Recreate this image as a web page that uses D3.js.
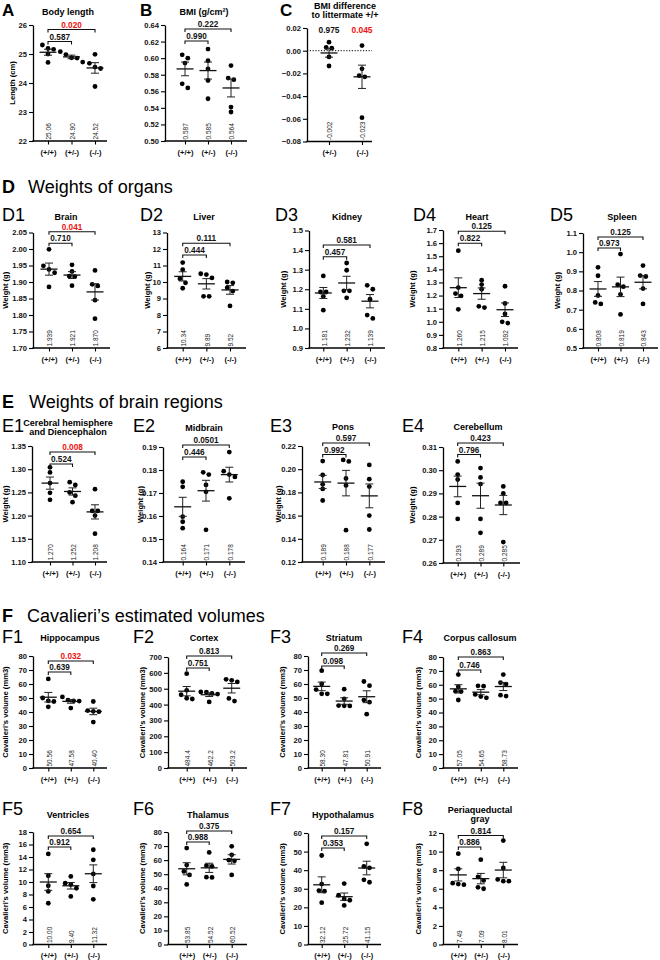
<!DOCTYPE html>
<html><head><meta charset="utf-8">
<script src="https://cdn.jsdelivr.net/npm/d3@7"></script>
<style>body{margin:0;background:#fff} svg{display:block}</style>
</head><body><svg id="chart" width="660" height="960"></svg>
<script>
const genotypes = ["(+/+)", "(+/-)", "(-/-)"];
const genotypesMutant = ["(+/-)", "(-/-)"];

// A  Body length
const bodyLengthTicks = [22, 23, 24, 25, 26];
const bodyLength = [[25.31,25.19,25.16,25.00,24.71],[25.08,24.98,24.87,24.86,24.72],[24.99,24.68,24.55,24.50,23.88]];
const bodyLengthMeans = ["25.06","24.90","24.52"];
const bodyLengthP = ["0.587","0.020"];
// B  BMI
const bmiTicks = [0.50,0.52,0.54,0.56,0.58,0.60,0.62,0.64];
const bmi = [[0.604,0.600,0.594,0.569,0.564],[0.611,0.597,0.587,0.573,0.551],[0.591,0.576,0.574,0.541,0.535]];
const bmiMeans = ["0.587","0.585","0.564"];
const bmiP = ["0.990","0.222"];
// C  BMI difference
const bmiDiffTicks = [-0.08,-0.06,-0.04,-0.02,0.00,0.02];
const bmiDiff = [[0.0075,0.0028,0.0022,-0.0055,-0.0135],[0.0045,-0.016,-0.022,-0.023,-0.059]];
const bmiDiffMeans = ["-0.002","-0.023"];
const bmiDiffP = ["0.975","0.045"];
// D  organs
const brainTicks = [1.70,1.75,1.80,1.85,1.90,1.95,2.00,2.05];
const brain = [[1.999,1.949,1.938,1.928,1.885],[1.952,1.932,1.918,1.916,1.889],[1.935,1.893,1.888,1.845,1.789]];
const brainMeans = ["1.939","1.921","1.870"];
const brainP = ["0.710","0.041"];
const liverTicks = [6,7,8,9,10,11,12,13];
const liver = [[11.18,10.75,10.20,9.95,9.62],[10.50,10.45,10.25,9.13,9.13],[10.00,9.95,9.65,9.45,8.55]];
const liverMeans = ["10.34","9.89","9.52"];
const liverP = ["0.444","0.111"];
const kidneyTicks = [0.9,1.0,1.1,1.2,1.3,1.4,1.5];
const kidney = [[1.268,1.186,1.186,1.164,1.093],[1.334,1.297,1.192,1.192,1.156],[1.220,1.200,1.149,1.068,1.051]];
const kidneyMeans = ["1.181","1.232","1.139"];
const kidneyP = ["0.457","0.581"];
const heartTicks = [0.8,0.9,1.0,1.1,1.2,1.3,1.4,1.5,1.6,1.7];
const heart = [[1.542,1.261,1.215,1.197,1.095],[1.317,1.284,1.248,1.118,1.108],[1.271,1.140,1.060,1.000,0.990]];
const heartMeans = ["1.260","1.215","1.092"];
const heartP = ["0.822","0.125"];
const spleenTicks = [0.5,0.6,0.7,0.8,0.9,1.0,1.1];
const spleen = [[0.921,0.877,0.774,0.738,0.730],[0.990,0.830,0.820,0.780,0.675],[0.930,0.878,0.873,0.810,0.730]];
const spleenMeans = ["0.808","0.819","0.843"];
const spleenP = ["0.973","0.125"];
// E  brain regions
const cerebralTicks = [1.10,1.15,1.20,1.25,1.30,1.35];
const cerebral = [[1.304,1.293,1.270,1.249,1.234],[1.272,1.266,1.250,1.243,1.229],[1.257,1.210,1.210,1.200,1.161]];
const cerebralMeans = ["1.270","1.252","1.208"];
const cerebralP = ["0.524","0.008"];
const midbrainTicks = [0.14,0.15,0.16,0.17,0.18,0.19];
const midbrain = [[0.1749,0.1727,0.1597,0.1575,0.1547],[0.179,0.178,0.1735,0.1705,0.154],[0.1878,0.1795,0.178,0.177,0.1677]];
const midbrainMeans = ["0.164","0.171","0.178"];
const midbrainP = ["0.446","0.0501"];
const ponsTicks = [0.12,0.14,0.16,0.18,0.20,0.22];
const pons = [[0.207,0.195,0.187,0.183,0.173],[0.208,0.2067,0.192,0.186,0.1474],[0.2037,0.1914,0.185,0.160,0.148]];
const ponsMeans = ["0.189","0.188","0.177"];
const ponsP = ["0.992","0.597"];
const cerebellumTicks = [0.26,0.27,0.28,0.29,0.30,0.31];
const cerebellum = [[0.3038,0.2981,0.296,0.2859,0.279],[0.3009,0.2969,0.294,0.279,0.273],[0.293,0.290,0.2859,0.2859,0.269]];
const cerebellumMeans = ["0.293","0.289","0.285"];
const cerebellumP = ["0.796","0.423"];
// F  Cavalieri volumes
const vol80Ticks = [0,10,20,30,40,50,60,70,80];
const hippocampus = [[63.6,50.0,48.0,47.5,43.7],[50.8,48.5,48.0,47.8,42.8],[47.5,41.0,40.5,40.2,32.8]];
const hippocampusMeans = ["50.56","47.58","40.40"];
const hippocampusP = ["0.639","0.032"];
const cortexTicks = [0,100,200,300,400,500,600,700];
const cortex = [[595,490,462,440,435],[480,478,470,466,417],[559,553,543,439,422]];
const cortexMeans = ["484.4","462.2","503.2"];
const cortexP = ["0.751","0.813"];
const striatum = [[69.5,60,56,53,53],[56.3,49.4,44.6,44.4,44.35],[61.8,58.8,48.5,47.0,38.45]];
const striatumMeans = ["58.30","47.81","50.91"];
const striatumP = ["0.098","0.269"];
const callosum = [[67.3,58.5,55.4,55.05,49.0],[59.2,59.0,53.0,51.5,50.55],[67.3,61.5,60.5,52.5,51.85]];
const callosumMeans = ["57.05","54.65","58.73"];
const callosumP = ["0.746","0.863"];
const ventriclesTicks = [0,2,4,6,8,10,12,14,16,18];
const ventricles = [[14.5,11.0,9.4,8.5,6.6],[10.9,9.8,9.6,9.0,7.7],[15.16,13.55,11.3,9.36,7.23]];
const ventriclesMeans = ["10.00","9.40","11.32"];
const ventriclesP = ["0.912","0.654"];
const thalamus = [[68.6,56.5,52.0,49.5,42.7],[65.5,56.0,55.5,47.9,47.7],[69.8,63.8,60.0,59.5,49.5]];
const thalamusMeans = ["53.85","54.52","60.52"];
const thalamusP = ["0.988","0.375"];
const hypothalamusTicks = [0,10,20,30,40,50,60];
const hypothalamus = [[47.9,32.5,29.0,28.7,22.5],[32.8,26.5,24.5,23.8,21.0],[54.2,42.0,41.25,34.8,33.5]];
const hypothalamusMeans = ["32.12","25.72","41.15"];
const hypothalamusP = ["0.353","0.157"];
const pagTicks = [0,2,4,6,8,10,12];
const pag = [[9.78,8.13,6.6,6.5,6.44],[9.13,7.27,6.9,6.15,6.0],[11.18,8.24,7.0,6.82,6.81]];
const pagMeans = ["7.49","7.09","8.01"];
const pagP = ["0.886","0.814"];

const FONT = '"Liberation Sans", Arial, Helvetica, sans-serif';
const VOL = "Cavalieri\u2019s volume (mm3)";

const panels = [
 {lab:"A",lb:true,lx:2,ly:16,title:["Body length"],tx:68,ty:15,x0:33,top:25,bottom:141,cx:[48,95],end:107,cats:genotypes,ticks:bodyLengthTicks,fmt:"d",vals:bodyLength,means:bodyLengthMeans,p:bodyLengthP,br:[41.5,29.5],yl:"Length (cm)",ylx:12},
 {lab:"B",lb:true,lx:140,ly:16,title:["BMI (g/cm\u00b2)"],tx:204,ty:15,x0:165,top:25,bottom:141,cx:[185,231],end:247,cats:genotypes,ticks:bmiTicks,fmt:".2f",vals:bmi,means:bmiMeans,p:bmiP,br:[41,29]},
 {lab:"C",lb:true,lx:280,ly:16,title:["BMI difference","to littermate +/+"],tx:345,ty:8.5,x0:307,top:28,bottom:141.5,cx:[329,362],end:372,cats:genotypesMutant,ticks:bmiDiffTicks,fmt:".2f",vals:bmiDiff,means:bmiDiffMeans,p:bmiDiffP,zero:true},
 {lab:"D1",lx:2,ly:221,title:["Brain"],tx:66,ty:219.5,x0:33,top:232.5,bottom:348,cx:[49,95],end:110,cats:genotypes,ticks:brainTicks,fmt:".2f",vals:brain,means:brainMeans,p:brainP,br:[243.3,231.7],yl:"Weight (g)",ylx:5},
 {lab:"D2",lx:140,ly:221,title:["Liver"],tx:204,ty:219.5,x0:167,top:232.5,bottom:348,cx:[182.7,230],end:246,cats:genotypes,ticks:liverTicks,fmt:"d",vals:liver,means:liverMeans,p:liverP,br:[255,243.3],yl:"Weight (g)",ylx:147},
 {lab:"D3",lx:275,ly:221,title:["Kidney"],tx:347,ty:219.5,x0:309,top:230.5,bottom:348,cx:[323.3,370],end:385,cats:genotypes,ticks:kidneyTicks,fmt:".1f",vals:kidney,means:kidneyMeans,p:kidneyP,br:[256.7,245],yl:"Weight (g)",ylx:283},
 {lab:"D4",lx:413,ly:221,title:["Heart"],tx:477,ty:219.5,x0:443,top:230,bottom:348,cx:[458.3,505],end:518,cats:genotypes,ticks:heartTicks,fmt:".1f",vals:heart,means:heartMeans,p:heartP,br:[243.3,231.2],yl:"Weight (g)",ylx:412},
 {lab:"D5",lx:550,ly:221,title:["Spleen"],tx:622,ty:219.5,x0:583,top:233,bottom:348,cx:[598,643],end:658,cats:genotypes,ticks:spleenTicks,fmt:".1f",vals:spleen,means:spleenMeans,p:spleenP,br:[248,237],yl:"Weight (g)",ylx:557},
 {lab:"E1",lx:2,ly:432,title:["Cerebral hemisphere","and Diencephalon"],tx:68,ty:425.5,x0:32,top:446,bottom:562,cx:[50,95],end:107,cats:genotypes,ticks:cerebralTicks,fmt:".2f",vals:cerebral,means:cerebralMeans,p:cerebralP,br:[464,452],yl:"Weight (g)",ylx:5},
 {lab:"E2",lx:133,ly:432,title:["Midbrain"],tx:204,ty:430.5,x0:163,top:447,bottom:562,cx:[182.7,229.3],end:245,cats:genotypes,ticks:midbrainTicks,fmt:".2f",vals:midbrain,means:midbrainMeans,p:midbrainP,br:[457,445],yl:"Weight (g)",ylx:140},
 {lab:"E3",lx:270,ly:432,title:["Pons"],tx:343,ty:430,x0:302,top:446,bottom:562,cx:[322.7,369.3],end:385,cats:genotypes,ticks:ponsTicks,fmt:".2f",vals:pons,means:ponsMeans,p:ponsP,br:[454.5,443],yl:"Weight (g)",ylx:278},
 {lab:"E4",lx:402,ly:432,title:["Cerebellum"],tx:478,ty:430,x0:443,top:447,bottom:563,cx:[457.7,503.3],end:520,cats:genotypes,ticks:cerebellumTicks,fmt:".2f",vals:cerebellum,means:cerebellumMeans,p:cerebellumP,br:[454.5,443],yl:"Weight (g)",ylx:412},
 {lab:"F1",lx:2,ly:643,title:["Hippocampus"],tx:70,ty:641,x0:33,top:656,bottom:768,cx:[48.3,93.3],end:107,cats:genotypes,ticks:vol80Ticks,fmt:"d",vals:hippocampus,means:hippocampusMeans,p:hippocampusP,br:[672,661],yl:VOL,ylx:5.5},
 {lab:"F2",lx:133,ly:643,title:["Cortex"],tx:204,ty:641,x0:168,top:657,bottom:768,cx:[186.7,231.7],end:247,cats:genotypes,ticks:cortexTicks,fmt:"d",vals:cortex,means:cortexMeans,p:cortexP,br:[668,656],yl:VOL,ylx:142},
 {lab:"F3",lx:270,ly:643,title:["Striatum"],tx:344,ty:641,x0:308,top:656,bottom:768,cx:[321.7,366.7],end:381,cats:genotypes,ticks:vol80Ticks,fmt:"d",vals:striatum,means:striatumMeans,p:striatumP,br:[666,653],yl:VOL,ylx:282},
 {lab:"F4",lx:402,ly:643,title:["Corpus callosum"],tx:480,ty:641,x0:443,top:657,bottom:768,cx:[458.3,503.3],end:518,cats:genotypes,ticks:vol80Ticks,fmt:"d",vals:callosum,means:callosumMeans,p:callosumP,br:[670,657],yl:VOL,ylx:418},
 {lab:"F5",lx:2,ly:815,title:["Ventricles"],tx:68,ty:818,x0:33,top:832,bottom:944.5,cx:[48.3,93.3],end:107,cats:genotypes,ticks:ventriclesTicks,fmt:"d",vals:ventricles,means:ventriclesMeans,p:ventriclesP,br:[847,836],yl:VOL,ylx:5.5},
 {lab:"F6",lx:133,ly:815,title:["Thalamus"],tx:208,ty:818,x0:168,top:832,bottom:944.5,cx:[186.7,231.7],end:247,cats:genotypes,ticks:vol80Ticks,fmt:"d",vals:thalamus,means:thalamusMeans,p:thalamusP,br:[842,831],yl:VOL,ylx:142},
 {lab:"F7",lx:270,ly:815,title:["Hypothalamus"],tx:343,ty:818,x0:308,top:833,bottom:944.5,cx:[321.7,366.7],end:381,cats:genotypes,ticks:hypothalamusTicks,fmt:"d",vals:hypothalamus,means:hypothalamusMeans,p:hypothalamusP,br:[848,836],yl:VOL,ylx:282},
 {lab:"F8",lx:402,ly:815,title:["Periaqueductal","gray"],tx:480,ty:812.5,x0:443,top:833,bottom:944.5,cx:[458.3,503.3],end:518,cats:genotypes,ticks:pagTicks,fmt:"d",vals:pag,means:pagMeans,p:pagP,br:[847,835.5],yl:VOL,ylx:418}
];

const sections = [
 {lab:"D", text:"Weights of organs", y:193, tx:28},
 {lab:"E", text:"Weights of brain regions", y:408, tx:29},
 {lab:"F", text:"Cavalieri\u2019s estimated volumes", y:622, tx:27}
];

const svg = d3.select("#chart");
const RED = "#f01010";

sections.forEach(s => {
  svg.append("text").attr("x",2).attr("y",s.y).attr("font-family",FONT).attr("font-size",18).attr("font-weight","bold").text(s.lab);
  svg.append("text").attr("x",s.tx).attr("y",s.y).attr("font-family",FONT).attr("font-size",18).text(s.text);
});

function placeRows(vals, y) {
  // group close values into rows and spread them symmetrically
  const sorted = vals.map(v => ({v, py:y(v)})).sort((a,b) => a.py - b.py);
  const rows = [];
  sorted.forEach(d => {
    const last = rows[rows.length-1];
    if (last && d.py - last[last.length-1].py < 4.2) last.push(d); else rows.push([d]);
  });
  const out = [];
  rows.forEach(r => {
    const n = r.length;
    r.forEach((d,i) => { d.dx = (i - (n-1)/2) * 5.6; out.push(d); });
  });
  return out;
}

panels.forEach(p => {
  const g = svg.append("g");
  const y = d3.scaleLinear().domain(d3.extent(p.ticks)).range([p.bottom, p.top]);
  const x = d3.scalePoint().domain(p.cats).range(p.cx);

  g.append("text").attr("x",p.lx).attr("y",p.ly).attr("font-family",FONT)
    .attr("font-size",p.lb ? 17 : 18).attr("font-weight",p.lb ? "bold" : "normal").text(p.lab);
  p.title.forEach((t,i) => {
    g.append("text").attr("x",p.tx).attr("y",p.ty + i*9.8).attr("text-anchor","middle")
      .attr("font-family",FONT).attr("font-size",9).attr("font-weight","bold").text(t);
  });

  const ya = g.append("g").attr("transform",`translate(${p.x0},0)`)
    .call(d3.axisLeft(y).tickValues(p.ticks).tickFormat(d3.format(p.fmt)).tickSize(4).tickSizeOuter(0).tickPadding(2));
  ya.select(".domain").attr("stroke","#000").attr("stroke-width",1.3);
  ya.selectAll(".tick line").attr("stroke","#000").attr("stroke-width",1.1);
  ya.selectAll(".tick text").attr("font-family",FONT).attr("font-size",7.6).attr("font-weight","bold").attr("fill","#111");

  g.append("line").attr("x1",p.x0-0.6).attr("x2",p.end).attr("y1",p.bottom).attr("y2",p.bottom)
    .attr("stroke","#000").attr("stroke-width",1.3);
  const xa = g.append("g").attr("transform",`translate(0,${p.bottom})`)
    .call(d3.axisBottom(x).tickSize(3.5).tickPadding(5));
  xa.select(".domain").remove();
  xa.selectAll(".tick line").attr("stroke","#000").attr("stroke-width",1.1);
  xa.selectAll(".tick text").attr("font-family",FONT).attr("font-size",7.6).attr("font-weight","bold").attr("fill","#111");

  if (p.yl) {
    const mid = (p.top + p.bottom)/2;
    g.append("text").attr("transform",`translate(${p.ylx+2.7},${mid}) rotate(-90)`)
      .attr("text-anchor","middle").attr("font-family",FONT).attr("font-size",7.6).attr("font-weight","bold").text(p.yl);
  }

  if (p.zero) {
    g.append("line").attr("x1",p.x0).attr("x2",p.end).attr("y1",y(0)).attr("y2",y(0))
      .attr("stroke","#000").attr("stroke-width",1).attr("stroke-dasharray","1.2,1.6");
  }

  p.cats.forEach((c,i) => {
    const cx = x(c);
    const vals = p.vals[i];
    const mean = +p.means[i];
    const sem = d3.deviation(vals) / Math.sqrt(vals.length);
    g.append("text").attr("transform",`translate(${cx+3.4},${p.bottom-1.5}) rotate(-90)`)
      .attr("font-family",FONT).attr("font-size",6.5).attr("fill","#222").text(p.means[i]);
    placeRows(vals, y).forEach(d => {
      g.append("circle").attr("cx",cx + d.dx).attr("cy",d.py).attr("r",2.4).attr("fill","#000");
    });
    const eb = g.append("g").attr("stroke","#222").attr("stroke-width",1);
    eb.append("line").attr("x1",cx).attr("x2",cx).attr("y1",y(mean+sem)).attr("y2",y(mean-sem));
    eb.append("line").attr("x1",cx-4).attr("x2",cx+4).attr("y1",y(mean+sem)).attr("y2",y(mean+sem));
    eb.append("line").attr("x1",cx-4).attr("x2",cx+4).attr("y1",y(mean-sem)).attr("y2",y(mean-sem));
    g.append("line").attr("x1",cx-8.5).attr("x2",cx+8.5).attr("y1",y(mean)).attr("y2",y(mean))
      .attr("stroke","#111").attr("stroke-width",1.3);
  });

  if (p.zero) {
    p.cats.forEach((c,i) => {
      g.append("text").attr("x",x(c)).attr("y",33).attr("text-anchor","middle")
        .attr("font-family",FONT).attr("font-size",8.4).attr("font-weight","bold")
        .attr("fill", +p.p[i] < 0.05 ? RED : "#111").text(p.p[i]);
    });
  } else {
    const pairs = [[0,1],[0,2]];
    pairs.forEach((pr,k) => {
      const x1 = x(p.cats[pr[0]]), x2 = x(p.cats[pr[1]]), by = p.br[k];
      g.append("path").attr("d",`M${x1},${by+3}V${by}H${x2}V${by+3}`)
        .attr("fill","none").attr("stroke","#111").attr("stroke-width",1.1);
      g.append("text").attr("x",(x1+x2)/2).attr("y",by-2).attr("text-anchor","middle")
        .attr("font-family",FONT).attr("font-size",8.2).attr("font-weight","bold")
        .attr("fill", +p.p[k] < 0.05 ? RED : "#111").text(p.p[k]);
    });
  }
});
</script>
</body></html>
